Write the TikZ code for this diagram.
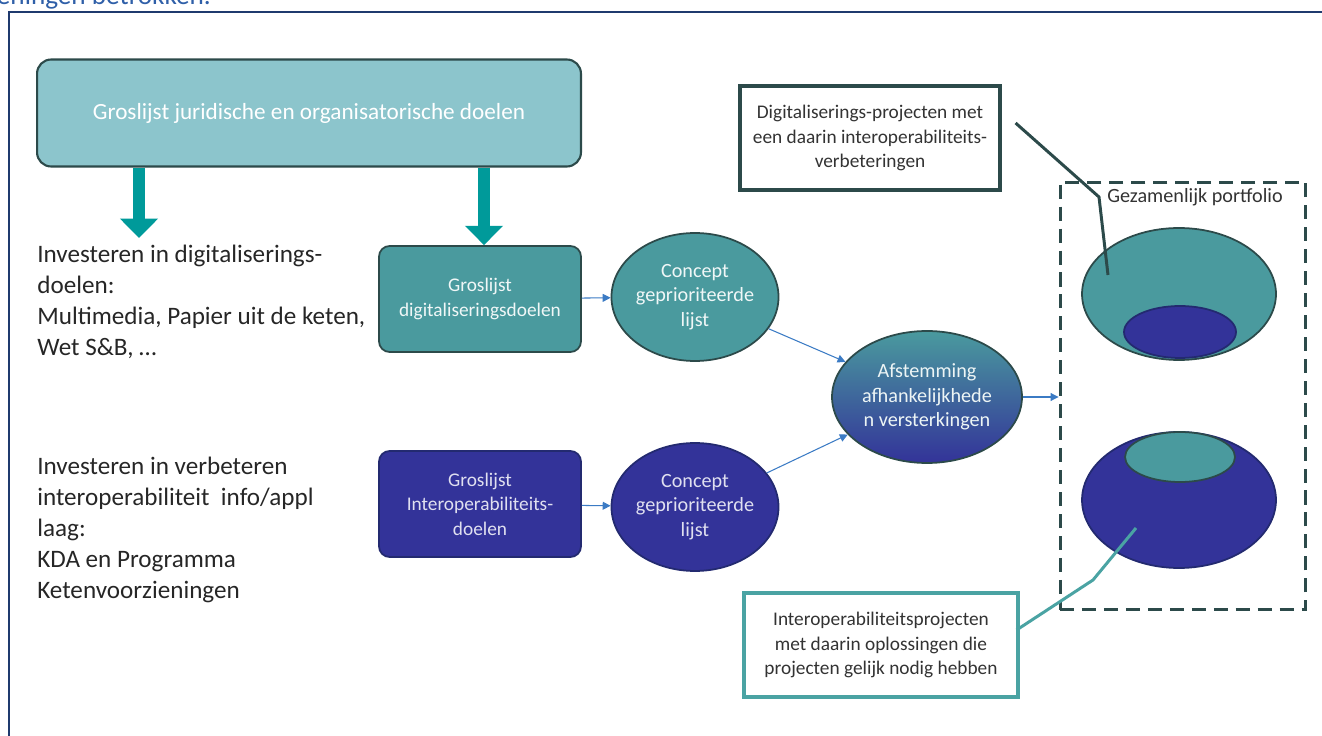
\documentclass[tikz,border=0pt]{standalone}
\usepackage{fontspec}
\setmainfont{Carlito}
\usetikzlibrary{arrows.meta,shapes.geometric,calc,positioning}

\definecolor{goallight}{HTML}{8CC5CC}
\definecolor{digiteal}{HTML}{4A9A9E}
\definecolor{interblue}{HTML}{333399}
\definecolor{edgedark}{HTML}{2C4A4A}
\definecolor{edgeblue}{HTML}{232A70}
\definecolor{linkblue}{HTML}{3B7BC4}
\definecolor{fatteal}{HTML}{009A9A}
\definecolor{framenavy}{HTML}{1F3A6E}
\definecolor{calloutteal}{HTML}{4AA3A3}
\definecolor{captionblue}{HTML}{2F5FA8}

\begin{document}
\begin{tikzpicture}[x=0.02cm, y=-0.02cm,
  goalbox/.style={draw=edgedark, line width=1.2pt, rounded corners=8pt, fill=goallight, text=white, minimum width=10.88cm, minimum height=2.14cm, font=\fontsize{13.2}{15}\selectfont},
  listbox/.style={draw=edgedark, line width=1pt, rounded corners=6pt, minimum width=4.04cm, minimum height=2.12cm, align=center, font=\fontsize{11}{14}\selectfont},
  concept/.style={ellipse, draw=edgedark, line width=1pt, minimum width=2.72cm, minimum height=2.56cm, inner sep=0pt, align=center, font=\fontsize{11.5}{14}\selectfont},
  folio/.style={ellipse, line width=1pt, inner sep=0pt},
  invest/.style={anchor=north west, align=left, inner sep=0pt, text=black!85, font=\fontsize{14.3}{17.6}\selectfont},
  callout/.style={line width=1.8pt, fill=white, align=center, text=black!80, font=\fontsize{11}{14}\selectfont},
  fatarrow/.style={fatteal, line width=6.8pt, -{Triangle[width=21pt,length=11pt]}},
  link/.style={linkblue, line width=0.6pt, -{Triangle[width=4.5pt,length=4.5pt]}}]

    \useasboundingbox (0,0) rectangle (1322,736);

    \node[anchor=base east, text=captionblue, font=\fontsize{15.5}{18}\selectfont] (caption) at (217,5) {eningen betrokken.};
    \draw[framenavy, line width=1.3pt] (9,740) -- (9,12) -- (1326,12);

    \node[goalbox] (goals) at (309,113) {Groslijst juridische en organisatorische doelen};

    \node[invest] (diginvest) at (37,245) {Investeren in digitaliserings-\\doelen:\\Multimedia, Papier uit de keten,\\Wet S\&B, \ldots};
    \node[invest] (intinvest) at (37,457) {Investeren in verbeteren\\interoperabiliteit~ info/appl\\laag:\\KDA en Programma\\Ketenvoorzieningen};

    \node[listbox, fill=digiteal, text=white!92!digiteal] (diglist) at (480,299) {Groslijst\\digitaliseringsdoelen};
    \node[listbox, fill=interblue, draw=edgeblue, text=white!85!interblue] (intlist) at (480,504) {Groslijst\\Interoperabiliteits-\\doelen};

    \node[concept, fill=digiteal, text=white!92!digiteal] (digconc) at (695,297) {Concept\\geprioriteerde\\lijst};
    \node[concept, fill=interblue, draw=edgeblue, text=white!85!interblue] (intconc) at (695,507) {Concept\\geprioriteerde\\lijst};
    \node[concept, minimum width=3.8cm, minimum height=2.64cm, top color=digiteal, bottom color=interblue, text=white!90!digiteal] (afst) at (927,397) {Afstemming\\afhankelijkhede\\n versterkingen};

    \node[draw=edgedark, line width=1.7pt, dash pattern=on 8pt off 4.5pt, minimum width=4.92cm, minimum height=8.56cm] (portfolio) at (1183,396) {};
    \node[anchor=base, text=black!80, font=\fontsize{11.5}{13}\selectfont] (portlabel) at (1195,203) {Gezamenlijk portfolio};

    \node[folio, draw=edgedark, fill=digiteal, minimum width=3.88cm, minimum height=2.64cm] (digfolio) at (1179,294) {};
    \node[folio, draw=edgeblue, fill=interblue, minimum width=2.24cm, minimum height=1.04cm] (digpart) at (1180,332) {};
    \node[folio, draw=edgeblue, fill=interblue, minimum width=3.88cm, minimum height=2.72cm] (intfolio) at (1179,500) {};
    \node[folio, draw=edgedark, fill=digiteal, minimum width=2.2cm, minimum height=1.0cm] (intpart) at (1180,457) {};

    \node[callout, draw=edgedark, minimum width=5.2cm, minimum height=2.08cm] (digcall) at (870,138) {Digitaliserings-projecten met\\een daarin interoperabiliteits-\\verbeteringen};
    \node[callout, draw=calloutteal, minimum width=5.48cm, minimum height=2.08cm] (intcall) at (881,645) {Interoperabiliteitsprojecten\\met daarin oplossingen die\\projecten gelijk nodig hebben};

    \coordinate (digdrop) at (139,238);
    \coordinate (listdrop) at (484,0);
    \draw[fatarrow] (goals.south -| digdrop) -- (digdrop);
    \draw[fatarrow] (goals.south -| listdrop) -- (diglist.north -| listdrop);

    \draw[link] (diglist) -- (digconc);
    \draw[link] (intlist) -- (intconc);
    \draw[link] (digconc) -- (afst);
    \draw[link] (intconc) -- (afst);
    \draw[link] (afst.east) -- (afst.east -| portfolio.west);

    \coordinate (digbend) at (1099,197);
    \coordinate (digtip) at (1108,275);
    \draw[edgedark, line width=1.7pt] ($(digcall.east)+(14,-15)$) -- (digbend) -- (digtip);
    \coordinate (intbend) at (1093,580);
    \coordinate (inttip) at (1136,528);
    \draw[calloutteal, line width=1.7pt] ($(intcall.east)+(-3,-15)$) -- (intbend) -- (inttip);

\end{tikzpicture}
\end{document}
